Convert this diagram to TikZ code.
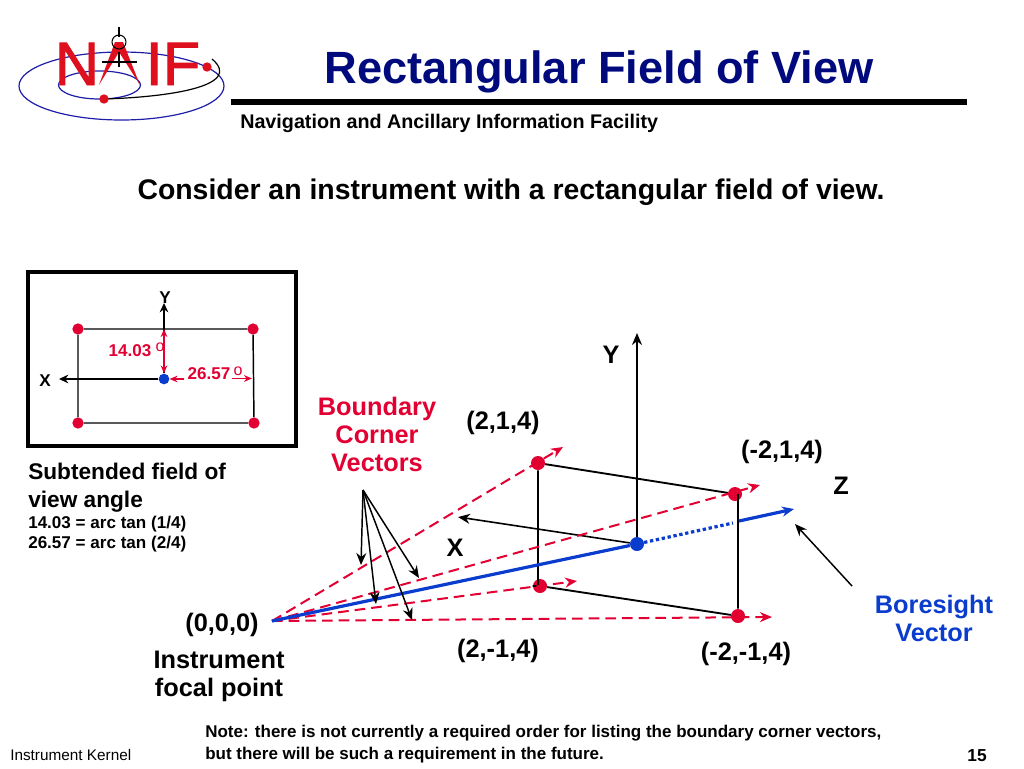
\documentclass[tikz,border=0pt]{standalone}
\usepackage{fontspec}
\setmainfont{Liberation Sans}
\newfontfamily\logofont[FakeBold=1.5]{Liberation Sans}
\usepackage[dvipsnames]{xcolor}
\usetikzlibrary{arrows.meta}
\definecolor{naifred}{RGB}{226,0,50}
\definecolor{logored}{RGB}{222,16,30}
\definecolor{naifblue}{RGB}{10,60,205}
\definecolor{titleblue}{RGB}{0,10,125}
\definecolor{orbitblue}{RGB}{30,30,170}

\begin{document}
\begin{tikzpicture}[x=0.75pt,y=-0.75pt,>={Stealth[length=9pt,width=7.5pt]},
    big label/.style={font=\fontsize{19}{21}\selectfont\bfseries,align=center,anchor=base},
    small label/.style={font=\fontsize{12.8}{15}\selectfont\bfseries,anchor=base west},
    degree mark/.style={font=\fontsize{12}{14}\selectfont,text=naifred,anchor=base},
    red dot/.style={circle,fill=naifred,inner sep=0pt,minimum size=10.5pt},
    inset dot/.style={circle,fill=naifred,inner sep=0pt,minimum size=8.5pt},
    blue dot/.style={circle,fill=naifblue,inner sep=0pt,minimum size=10.5pt},
    corner line/.style={draw=naifred,line width=1.5pt,dash pattern=on 8pt off 4.5pt,->},
    frame line/.style={draw=black,line width=1.4pt},
    axis line/.style={draw=black,line width=1.2pt,->},
    inset axis/.style={draw=black,line width=1.1pt,->,>={Stealth[length=7pt,width=6.5pt]}},
    inset red/.style={draw=naifred,line width=1pt,>={Stealth[length=6pt,width=5pt]}},
    pointer line/.style={draw=black,line width=1.1pt,->}]

    \useasboundingbox (0,0) rectangle (1024,768);

    % logo
    \draw[orbitblue,line width=0.9pt] (121.5,86) ellipse [x radius=102.5,y radius=34];
    \draw[orbitblue,line width=0.9pt] (99.5,85) ellipse [x radius=41,y radius=14];
    \draw[black,line width=0.9pt] (104,99) .. controls (170,97) and (244,86) .. (212,59);
    \node[font=\logofont\fontsize{46}{50}\selectfont,text=logored,anchor=base] (logoN) at (77,85) {N};
    \node[font=\logofont\fontsize{46}{50}\selectfont,text=logored,anchor=base west] (logoIF) at (141,85) {IF};
    \fill[logored] (115,42) -- (123,42) -- (140,85) -- (119,52) -- (99,85) -- cycle;
    \draw[black,line width=1.6pt] (119,27) -- (119,37);
    \draw[black,line width=0.8pt] (119,42) circle [radius=7];
    \draw[black,line width=0.9pt] (102,62) -- (137,62) (119,52) -- (119,67);
    \node[circle,fill=logored,inner sep=0pt,minimum size=7pt] (logoA) at (104,99) {};
    \node[circle,fill=logored,inner sep=0pt,minimum size=7pt] (logoB) at (207,67) {};

    % header
    \node[font=\fontsize{33.9}{36}\selectfont\bfseries,text=titleblue,anchor=base] (title) at (599,83) {Rectangular Field of View};
    \draw[black,line width=4.5pt] (231,102) -- (967,102);
    \node[font=\fontsize{14.8}{16}\selectfont\bfseries,anchor=base west,inner sep=0pt] (subtitle) at (240,128) {Navigation and Ancillary Information Facility};
    \node[font=\fontsize{21.3}{24}\selectfont\bfseries,anchor=base] (intro) at (511,199) {Consider an instrument with a rectangular field of view.};

    % inset
    \draw[black,line width=3pt] (28,271.5) rectangle (296,446);
    \node[inset dot] (i1) at (78,329) {};
    \node[inset dot] (i2) at (253,329) {};
    \node[inset dot] (i3) at (78,423) {};
    \node[inset dot] (i4) at (254,423) {};
    \node[circle,fill=naifblue,inner sep=0pt,minimum size=8pt] (i0) at (164,379) {};
    \coordinate (iy) at (164,303);
    \coordinate (ix) at (59,379);
    \path[draw=black,line width=1.1pt]
        (i1) -- (i2) (i2) -- (i4) (i4) -- (i3) (i3) -- (i1);
    \path[inset axis] (i0) -- (iy);
    \path[inset axis] (i0) -- (ix);
    \coordinate (vtop) at (164,329);
    \coordinate (hfrom) at (184,379);
    \coordinate (hto) at (232,378.5);
    \coordinate (hend) at (252,378.5);
    \path[inset red,<->] (vtop) -- (i0);
    \path[inset red,->] (hfrom) -- (i0);
    \path[inset red,->] (hto) -- (hend);
    \node[small label,anchor=base] (iylabel) at (165,303) {Y};
    \node[small label,anchor=base] (ixlabel) at (45,386) {X};
    \node[small label,text=naifred,anchor=base] (iang) at (130,356) {14.03};
    \node[degree mark] (ideg) at (160,351) {o};
    \node[small label,text=naifred,anchor=base] (jang) at (209,379) {26.57};
    \node[degree mark] (jdeg) at (238,375) {o};

    \node[font=\fontsize{17}{20.5}\selectfont\bfseries,align=left,anchor=base west,inner sep=0pt] (sub) at (28,507) {Subtended field of\\view angle};
    \node[small label,inner sep=0pt] (sub1) at (28,528) {14.03 = arc tan (1/4)};
    \node[small label,inner sep=0pt] (sub2) at (28,548) {26.57 = arc tan (2/4)};

    % main picture
    \coordinate (o) at (272,621);
    \node[red dot] (a) at (538,463) {};
    \node[red dot] (b) at (735,494) {};
    \node[red dot] (c) at (540,586) {};
    \node[red dot] (d) at (738,616) {};
    \node[blue dot] (e) at (637,544) {};
    \coordinate (aend) at (563,447);
    \coordinate (bend) at (760,485);
    \coordinate (cend) at (577,581);
    \coordinate (dend) at (772,617);
    \coordinate (yend) at (637,333);
    \coordinate (xend) at (458,517);
    \coordinate (dotend) at (733,523);
    \coordinate (zstart) at (739,521);
    \coordinate (zend) at (794,509);
    \coordinate (bstart) at (852,586);
    \coordinate (bend2) at (795,524);
    \coordinate (p) at (363,490);
    \coordinate (p1) at (361,565);
    \coordinate (p2) at (376,604);
    \coordinate (p3) at (412,620);
    \coordinate (p4) at (419,578);

    \path[frame line] (a) -- (b) (d) -- (d|-b) (d) -- (c) (c) -- (c-|a) -- (a);
    \path[axis line] (e) -- (yend);
    \path[axis line] (e) -- (xend);
    \path[corner line] (o) -- (aend);
    \path[corner line] (o) -- (bend);
    \path[corner line] (o) -- (cend);
    \path[corner line] (o) -- (dend);
    \path[draw=naifblue,line width=2.4pt] (o) -- (e);
    \path[draw=naifblue,line width=2.4pt,dash pattern=on 2.5pt off 2pt] (e) -- (dotend);
    \path[draw=naifblue,line width=2.4pt,->] (zstart) -- (zend);
    \path[pointer line] (bstart) -- (bend2);
    \path[pointer line] (p) -- (p1);
    \path[pointer line] (p) -- (p2);
    \path[pointer line] (p) -- (p3);
    \path[pointer line] (p) -- (p4);

    \node[big label,text=naifred] (bcv) at (377,471) {Boundary\\Corner\\Vectors};
    \node[big label,text=naifblue] (bv) at (934,641) {Boresight\\Vector};
    \node[big label] (foc) at (219,696) {Instrument\\focal point};
    \node[big label] (l0) at (222,631) {(0,0,0)};
    \node[big label] (l1) at (503,429) {(2,1,4)};
    \node[big label] (l2) at (782,458) {(-2,1,4)};
    \node[big label] (l3) at (498,657) {(2,-1,4)};
    \node[big label] (l4) at (746,660) {(-2,-1,4)};
    \node[big label] (ly) at (611,363) {Y};
    \node[big label] (lz) at (841,494) {Z};
    \node[big label] (lx) at (455,556) {X};

    % footer
    \node[font=\fontsize{12.75}{16}\selectfont\bfseries,align=left,anchor=base west,inner sep=0pt] (note) at (205,759) {Note: there is not currently a required order for listing the boundary corner vectors,\\but there will be such a requirement in the future.};
    \node[font=\fontsize{11.5}{12}\selectfont,anchor=base west,inner sep=0pt] (foot) at (10,760) {Instrument Kernel};
    \node[font=\fontsize{13}{14}\selectfont\bfseries,anchor=base] (page) at (977,761) {15};
\end{tikzpicture}
\end{document}
